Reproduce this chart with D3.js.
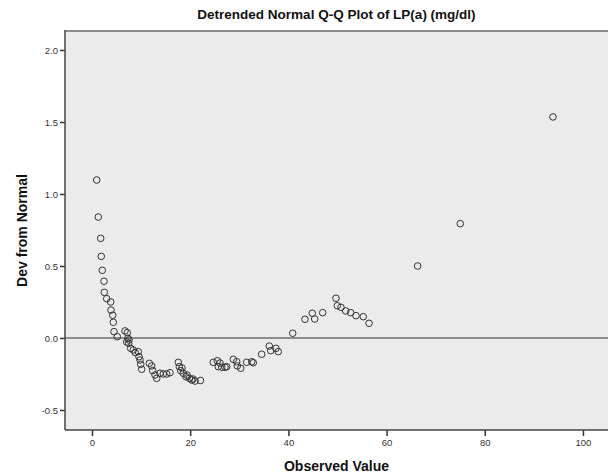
<!DOCTYPE html>
<html>
<head>
<meta charset="utf-8">
<script src="https://cdn.jsdelivr.net/npm/d3@7"></script>
<style>
  html, body { margin: 0; padding: 0; background: #ffffff; }
  svg { display: block; }
  text { font-family: Arial, "Liberation Sans", sans-serif; }
</style>
</head>
<body>
<svg id="chart" width="608" height="476"></svg>
<script>
// Observed LP(a) values (mg/dl)
const observed = [
  0.96, 1.28, 1.77, 1.89, 2.10, 2.44, 2.50, 2.99, 3.81, 3.87,
  4.22, 4.34, 4.48, 5.15, 6.72, 7.19, 7.33, 7.07, 7.47, 7.54,
  7.88, 8.41, 8.82, 9.43, 9.57, 9.78, 9.92, 10.12, 11.67, 12.16,
  12.36, 12.83, 13.18, 13.85, 14.52, 15.21, 15.89, 17.58, 17.78, 18.07,
  18.33, 18.59, 19.14, 19.35, 19.82, 20.31, 20.57, 20.98, 22.10, 24.70,
  25.52, 25.72, 26.07, 26.42, 27.09, 27.43, 28.78, 29.47, 29.59, 30.29,
  31.51, 32.53, 32.85, 34.56, 36.11, 36.40, 37.47, 37.94, 40.88, 43.38,
  44.87, 45.36, 46.99, 49.69, 49.96, 50.71, 51.67, 52.69, 53.77, 55.25,
  56.42, 66.33, 75.01, 93.89
];
// Deviation from normal
const deviation = [
  1.097, 0.840, 0.692, 0.567, 0.470, 0.394, 0.317, 0.273, 0.250, 0.194,
  0.158, 0.109, 0.044, 0.009, 0.049, 0.037, -0.002, -0.028, -0.037, -0.014,
  -0.072, -0.083, -0.101, -0.095, -0.130, -0.153, -0.183, -0.217, -0.176, -0.194,
  -0.227, -0.257, -0.280, -0.245, -0.250, -0.250, -0.241, -0.169, -0.199, -0.227,
  -0.208, -0.245, -0.269, -0.257, -0.280, -0.292, -0.285, -0.299, -0.295, -0.169,
  -0.158, -0.199, -0.174, -0.203, -0.203, -0.199, -0.148, -0.165, -0.194, -0.210,
  -0.169, -0.165, -0.172, -0.113, -0.056, -0.088, -0.072, -0.095, 0.033, 0.130,
  0.172, 0.132, 0.176, 0.276, 0.224, 0.213, 0.188, 0.176, 0.155, 0.148,
  0.102, 0.500, 0.794, 1.535
];
const xTicks = [0, 20, 40, 60, 80, 100];
const yTicks = [-0.5, 0.0, 0.5, 1.0, 1.5, 2.0];

const titleText = "Detrended Normal Q-Q Plot of LP(a) (mg/dl)";
const xLabel = "Observed Value";
const yLabel = "Dev from Normal";

const svg = d3.select("#chart");
const L = 65, R = 608, T = 31, B = 430;

const x = d3.scaleLinear().domain([-5.5, 105.1]).range([L, R]);
const y = d3.scaleLinear().domain([-0.639, 2.132]).range([B, T]);

// plot background
svg.append("rect")
  .attr("x", L).attr("y", T)
  .attr("width", R - L).attr("height", B - T)
  .attr("fill", "#ebebeb");

// top border
svg.append("line")
  .attr("x1", L).attr("x2", R).attr("y1", T).attr("y2", T)
  .attr("stroke", "#8a8a8a").attr("stroke-width", 2);

// zero reference line
svg.append("line")
  .attr("x1", L).attr("x2", R)
  .attr("y1", y(0)).attr("y2", y(0))
  .attr("stroke", "#6e6e6e").attr("stroke-width", 1.5);

// axes
const yAxis = d3.axisLeft(y).tickValues(yTicks).tickFormat(d => d.toFixed(1)).tickSize(5).tickPadding(2);
const xAxis = d3.axisBottom(x).tickValues(xTicks).tickFormat(d => String(d)).tickSize(6).tickPadding(3);

const gy = svg.append("g").attr("transform", `translate(${L},0)`).call(yAxis);
const gx = svg.append("g").attr("transform", `translate(0,${B})`).call(xAxis);
[gx, gy].forEach(g => {
  g.select(".domain").remove();
  g.selectAll(".tick line").attr("stroke", "#333").attr("stroke-width", 1.5);
  g.selectAll(".tick text").attr("fill", "#333").style("font-size", "9.5px");
});

// frame left/bottom
svg.append("line").attr("x1", L).attr("x2", L).attr("y1", T - 1).attr("y2", B)
  .attr("stroke", "#444").attr("stroke-width", 1.5);
svg.append("line").attr("x1", L).attr("x2", R).attr("y1", B).attr("y2", B)
  .attr("stroke", "#444").attr("stroke-width", 1.5);

// points
svg.append("g").selectAll("circle")
  .data(observed.map((v, i) => [v, deviation[i]]))
  .join("circle")
  .attr("cx", d => x(d[0]))
  .attr("cy", d => y(d[1]))
  .attr("r", 3.3)
  .attr("fill", "none")
  .attr("stroke", "#333")
  .attr("stroke-width", 1);

// title
svg.append("text")
  .attr("x", (L + R) / 2).attr("y", 19)
  .attr("text-anchor", "middle")
  .style("font-size", "13.5px").style("font-weight", "bold").attr("fill", "#111")
  .text(titleText);

// x label
svg.append("text")
  .attr("x", (L + R) / 2).attr("y", 471)
  .attr("text-anchor", "middle")
  .style("font-size", "14px").style("font-weight", "bold").attr("fill", "#111")
  .text(xLabel);

// y label
svg.append("text")
  .attr("transform", `translate(27,${(T + B) / 2}) rotate(-90)`)
  .attr("text-anchor", "middle")
  .style("font-size", "14px").style("font-weight", "bold").attr("fill", "#111")
  .text(yLabel);
</script>
</body>
</html>
